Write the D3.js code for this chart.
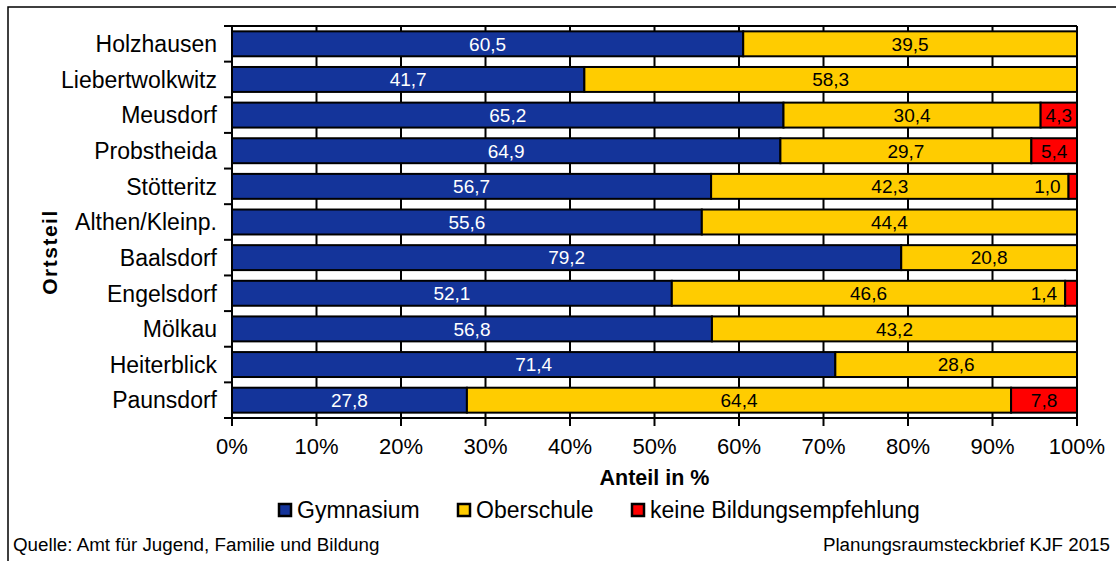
<!DOCTYPE html>
<html><head><meta charset="utf-8">
<script src="https://cdn.jsdelivr.net/npm/d3@7"></script>
<style>html,body{margin:0;padding:0;background:#fff;}svg{display:block;font-family:"Liberation Sans",Arial,sans-serif;}</style>
</head><body>
<svg id="chart" width="1116" height="561"></svg>
<script>
const categories = ["Holzhausen","Liebertwolkwitz","Meusdorf","Probstheida","Stötteritz","Althen/Kleinp.","Baalsdorf","Engelsdorf","Mölkau","Heiterblick","Paunsdorf"];
const gymnasium  = [60.5,41.7,65.2,64.9,56.7,55.6,79.2,52.1,56.8,71.4,27.8];
const oberschule = [39.5,58.3,30.4,29.7,42.3,44.4,20.8,46.6,43.2,28.6,64.4];
const keine      = [0,0,4.3,5.4,1.0,0,0,1.4,0,0,7.8];
const seriesNames = ["Gymnasium","Oberschule","keine Bildungsempfehlung"];
const tickValues = [0,0.1,0.2,0.3,0.4,0.5,0.6,0.7,0.8,0.9,1];
const tickLabels = ["0%","10%","20%","30%","40%","50%","60%","70%","80%","90%","100%"];
const xTitle = "Anteil in %";
const yTitle = "Ortsteil";
const sourceText = "Quelle: Amt für Jugend, Familie  und Bildung";
const creditText = "Planungsraumsteckbrief KJF 2015";

const colors = ["#14349a","#ffcc00","#ff0000"];
const labelColors = ["#ffffff","#000000","#000000"];

const svg = d3.select("#chart");
const M = {left:232, right:1077, top:26, bottom:418};

svg.append("rect").attr("x",8).attr("y",7).attr("width",1130).attr("height",580)
  .attr("fill","#fff").attr("stroke","#000").attr("stroke-width",1.5);

const rows = categories.map((c,i)=>({cat:c, s0:gymnasium[i], s1:oberschule[i], s2:keine[i]}));
const stack = d3.stack().keys(["s0","s1","s2"]).offset(d3.stackOffsetExpand);
const series = stack(rows);

const x = d3.scaleLinear().domain([0,1]).range([M.left,M.right]);
const y = d3.scaleBand().domain(categories).range([M.top,M.bottom]).paddingInner(0.3).paddingOuter(0.15);
const step = y.step();

// gridlines
svg.append("g").selectAll("line").data(tickValues.slice(1)).join("line")
  .attr("x1",d=>x(d)).attr("x2",d=>x(d)).attr("y1",M.top).attr("y2",M.bottom)
  .attr("stroke","#000").attr("stroke-width",2);

// top border
svg.append("line").attr("x1",M.left).attr("x2",M.right).attr("y1",M.top).attr("y2",M.top)
  .attr("stroke","#000").attr("stroke-width",2);

// bars
const fmt = v => v.toFixed(1).replace(".",",");
series.forEach((s,si)=>{
  const g = svg.append("g");
  g.selectAll("rect").data(s.filter(d=>d[1]-d[0]>0)).join("rect")
    .attr("x",d=>x(d[0])).attr("y",d=>y(d.data.cat))
    .attr("width",d=>x(d[1])-x(d[0])).attr("height",y.bandwidth())
    .attr("fill",colors[si]).attr("stroke","#000").attr("stroke-width",2);
});
series.forEach((s,si)=>{
  const key = ["s0","s1","s2"][si];
  const g = svg.append("g");
  g.selectAll("text").data(s.filter(d=>d.data[key]>0)).join("text")
    .each(function(d){
      const x0 = x(d[0]), x1 = x(d[1]);
      const w = x1-x0;
      const t = d3.select(this);
      if (w < 25) {
        t.attr("x", x0-8).attr("text-anchor","end");
      } else {
        t.attr("x",(x0+x1)/2).attr("text-anchor","middle");
      }
    })
    .attr("y",d=>y(d.data.cat)+y.bandwidth()/2)
    .attr("dy","0.36em")
    .attr("font-size",19).attr("fill",labelColors[si])
    .text(d=>fmt(d.data[key]));
});

// y axis
svg.append("line").attr("x1",M.left).attr("x2",M.left).attr("y1",M.top).attr("y2",M.bottom+8)
  .attr("stroke","#000").attr("stroke-width",2);
svg.append("g").selectAll("line").data(d3.range(categories.length+1)).join("line")
  .attr("x1",M.left-8).attr("x2",M.left).attr("y1",k=>M.top+k*step).attr("y2",k=>M.top+k*step)
  .attr("stroke","#000").attr("stroke-width",2);
svg.append("g").selectAll("text").data(categories).join("text")
  .attr("x",M.left-15).attr("y",d=>y(d)+y.bandwidth()/2).attr("dy","0.36em")
  .attr("text-anchor","end").attr("font-size",23).attr("fill","#000").text(d=>d);

// x axis
svg.append("line").attr("x1",M.left).attr("x2",M.right).attr("y1",M.bottom).attr("y2",M.bottom)
  .attr("stroke","#000").attr("stroke-width",2);
svg.append("g").selectAll("line").data(tickValues).join("line")
  .attr("x1",d=>x(d)).attr("x2",d=>x(d)).attr("y1",M.bottom).attr("y2",M.bottom+8)
  .attr("stroke","#000").attr("stroke-width",2);
svg.append("g").selectAll("text").data(tickValues).join("text")
  .attr("x",d=>x(d)).attr("y",454).attr("text-anchor","middle")
  .attr("font-size",22).attr("fill","#000").text((d,i)=>tickLabels[i]);

// axis titles
svg.append("text").attr("x",(M.left+M.right)/2).attr("y",485).attr("text-anchor","middle")
  .attr("font-size",21.5).attr("font-weight","bold").text(xTitle);
svg.append("text").attr("transform","translate(57,252) rotate(-90)").attr("text-anchor","middle")
  .attr("font-size",21).attr("font-weight","bold").attr("letter-spacing",1.5).text(yTitle);

// legend
const legendX = [278,457,631];
const lg = svg.append("g");
seriesNames.forEach((n,i)=>{
  lg.append("rect").attr("x",legendX[i]+1).attr("y",504).attr("width",12).attr("height",12)
    .attr("fill",colors[i]).attr("stroke","#000").attr("stroke-width",2.5);
  lg.append("text").attr("x",legendX[i]+19).attr("y",518).attr("font-size",23).text(n);
});

// footnotes
svg.append("text").attr("x",13).attr("y",551).attr("font-size",18.8).text(sourceText);
svg.append("text").attr("x",1110).attr("y",551).attr("text-anchor","end").attr("font-size",18.8).text(creditText);
</script>
</body></html>
